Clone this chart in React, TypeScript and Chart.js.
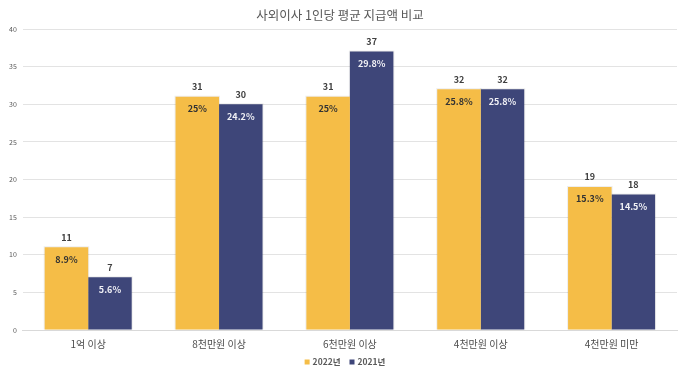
import React, { useEffect, useRef } from "react";
import { Chart, registerables } from "chart.js";

Chart.register(...registerables);

const categories = ["1억 이상", "8천만원 이상", "6천만원 이상", "4천만원 이상", "4천만원 미만"];
const seriesNames = ["2022년", "2021년"];
const values2022 = [11, 31, 31, 32, 19];
const values2021 = [7, 30, 37, 32, 18];
const pct2022 = ["8.9%", "25%", "25%", "25.8%", "15.3%"];
const pct2021 = ["5.6%", "24.2%", "29.8%", "25.8%", "14.5%"];
const yTicks = [0, 5, 10, 15, 20, 25, 30, 35, 40];
const colors = ["#F5BD47", "#3E4679"];

const FONT = "'Noto Sans CJK KR', 'Noto Sans', sans-serif";

const labelPlugin = {
  id: "barLabels",
  beforeDatasetsDraw(chart: any) {
    const ctx = chart.ctx;
    chart.data.datasets.forEach((_ds: any, di: number) => {
      const meta = chart.getDatasetMeta(di);
      meta.data.forEach((bar: any) => {
        const left = bar.x - bar.width / 2;
        ctx.save();
        ctx.fillStyle = "rgba(0,0,0,0.07)";
        ctx.fillRect(left - 1, bar.y - 1, bar.width + 2, bar.base - bar.y + 1);
        ctx.restore();
      });
    });
  },
  afterDatasetsDraw(chart: any) {
    const ctx = chart.ctx;
    const pcts = [pct2022, pct2021];
    const inColors = ["#333333", "#f0f0f5"];
    chart.data.datasets.forEach((ds: any, di: number) => {
      const meta = chart.getDatasetMeta(di);
      meta.data.forEach((bar: any, i: number) => {
        ctx.save();
        ctx.textAlign = "center";
        ctx.textBaseline = "middle";
        ctx.font = `bold 9px ${FONT}`;
        ctx.fillStyle = "#404040";
        ctx.fillText(String(ds.data[i]), bar.x, bar.y - 10);
        ctx.fillStyle = inColors[di];
        ctx.fillText(pcts[di][i], bar.x, bar.y + 12);
        ctx.restore();
      });
    });
  },
  afterDraw(chart: any) {
    const ctx = chart.ctx;
    ctx.save();
    ctx.font = `bold 8.5px ${FONT}`;
    ctx.textBaseline = "middle";
    ctx.textAlign = "left";
    const box = 5;
    const gap = 3;
    const itemGap = 9;
    const widths = seriesNames.map((n) => box + gap + ctx.measureText(n).width);
    const total = widths.reduce((a, b) => a + b, 0) + itemGap * (seriesNames.length - 1);
    let x = chart.width / 2 + 5 - total / 2;
    const y = chart.height - 6;
    seriesNames.forEach((n, i) => {
      ctx.fillStyle = colors[i];
      ctx.fillRect(x, y - box / 2, box, box);
      ctx.fillStyle = "#595959";
      ctx.fillText(n, x + box + gap, y);
      x += widths[i] + itemGap;
    });
    ctx.restore();
  },
};

export default function App() {
  const ref = useRef<HTMLCanvasElement>(null);
  useEffect(() => {
    const chart = new Chart(ref.current!, {
      type: "bar",
      data: {
        labels: categories,
        datasets: [
          {
            label: seriesNames[0],
            data: values2022,
            backgroundColor: colors[0],
            borderWidth: 0,
            categoryPercentage: 0.665,
            barPercentage: 1,
          },
          {
            label: seriesNames[1],
            data: values2021,
            backgroundColor: colors[1],
            borderWidth: 0,
            categoryPercentage: 0.665,
            barPercentage: 1,
          },
        ],
      },
      options: {
        animation: false,
        responsive: false,
        maintainAspectRatio: false,
        layout: { padding: { left: 3, right: 3, top: 0, bottom: 10 } },
        plugins: {
          title: {
            display: true,
            text: "사외이사 1인당 평균 지급액 비교",
            color: "#595959",
            font: { family: FONT, size: 12.5, weight: "normal" },
            padding: { top: 8, bottom: 6 },
          },
          legend: { display: false },
          tooltip: { enabled: false },
        },
        scales: {
          x: {
            grid: { display: false, drawTicks: false },
            border: { display: true, color: "#d9d9d9" },
            ticks: {
              color: "#4d4d4d",
              font: { family: FONT, size: 10 },
              padding: 8,
            },
          },
          y: {
            min: 0,
            max: 40,
            afterBuildTicks: (axis: any) => {
              axis.ticks = yTicks.map((v) => ({ value: v }));
            },
            grid: { color: "#e3e3e3", drawTicks: false },
            border: { display: false },
            ticks: {
              color: "#595959",
              font: { family: FONT, size: 7 },
              padding: 6,
            },
          },
        },
      },
      plugins: [labelPlugin],
    });
    return () => chart.destroy();
  }, []);
  return (
    <div style={{ position: "fixed", left: 0, top: 0, width: 680, height: 368, background: "#fff" }}>
      <canvas ref={ref} width={680} height={368} />
    </div>
  );
}
